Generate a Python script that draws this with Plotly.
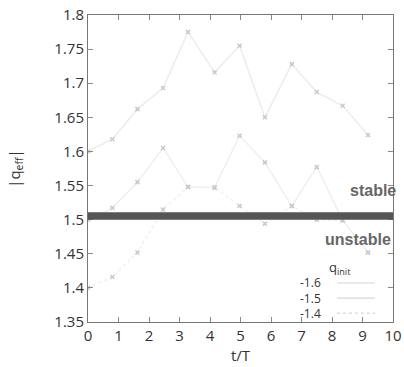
import plotly.graph_objects as go

t = [0, 0.8, 1.62, 2.46, 3.28, 4.15, 4.97, 5.8, 6.68, 7.5, 8.35, 9.18]
q16 = [1.600, 1.618, 1.662, 1.693, 1.775, 1.716, 1.755, 1.650, 1.728, 1.687, 1.667, 1.624]
q15 = [1.500, 1.517, 1.555, 1.605, 1.548, 1.547, 1.623, 1.584, 1.520, 1.577, 1.499, 1.452]
q14 = [1.400, 1.416, 1.452, 1.515, 1.548, 1.547, 1.520, 1.494, 1.520, 1.500, 1.499, 1.452]
series_names = ["-1.6", "-1.5", "-1.4"]
band_low, band_high = 1.500, 1.511
x_ticks = list(range(0, 11))
y_ticks = [1.35, 1.4, 1.45, 1.5, 1.55, 1.6, 1.65, 1.7, 1.75, 1.8]
y_tick_text = ["1.35", "1.4", "1.45", "1.5", "1.55", "1.6", "1.65", "1.7", "1.75", "1.8"]

fig = go.Figure()
styles = [("#ececec", "solid"), ("#efefef", "solid"), ("#f0f0f0", "dot")]
for name, ys, (c, d) in zip(series_names, [q16, q15, q14], styles):
    fig.add_trace(go.Scatter(x=t, y=ys, mode="lines+markers", name=name,
                             line=dict(color=c, width=1.5, dash=d),
                             marker=dict(color="#d0d0d0", size=4, symbol="x-thin",
                                         line=dict(color="#c8c8c8", width=1.5)),
                             showlegend=False))

fig.add_shape(type="rect", xref="paper", yref="y", x0=0, x1=1, y0=band_low, y1=band_high,
              fillcolor="#555555", line=dict(width=0), layer="above")

font = dict(family="Open Sans, DejaVu Sans, sans-serif", size=15, color="#333")
axis_common = dict(showgrid=False, zeroline=False, showline=True, linecolor="#777",
                   linewidth=1, mirror="ticks", ticks="inside", ticklen=5, tickcolor="#888",
                   tickfont=font, ticklabeloverflow="allow", automargin=False)
fig.update_layout(
    width=404, height=367,
    margin=dict(l=88, r=11, t=15, b=45, autoexpand=False),
    paper_bgcolor="white", plot_bgcolor="white",
    xaxis=dict(range=[0, 10], tickvals=x_ticks, title=dict(text="t/T", font=font, standoff=2),
               **axis_common),
    yaxis=dict(range=[1.35, 1.8], tickvals=y_ticks, ticktext=y_tick_text,
               title=dict(text="|q<sub>eff</sub>|", font=font, standoff=30), **axis_common),
)

bold = dict(family="Liberation Sans, Arial, sans-serif", size=16, color="#666")
fig.add_annotation(x=1.018, y=1.543, xref="paper", yref="y", text="<b>stable</b>",
                   showarrow=False, xanchor="right", yanchor="middle", font=bold)
fig.add_annotation(x=1.0, y=1.471, xref="paper", yref="y", text="<b>unstable</b>",
                   showarrow=False, xanchor="right", yanchor="middle", font=bold)

# legend built by hand (text left of line sample)
legfont = dict(family="Open Sans, DejaVu Sans, sans-serif", size=13, color="#333")
fig.add_annotation(x=0.826, y=0.176, xref="paper", yref="paper", text="q<sub>init</sub>",
                   showarrow=False, xanchor="center", yanchor="middle", font=legfont)
leg_y = [0.127, 0.078, 0.029]
fig.add_annotation(x=0.772, y=leg_y[1], xref="paper", yref="paper",
                   text="<br>".join(series_names), align="right",
                   showarrow=False, xanchor="right", yanchor="middle",
                   font=dict(family="Open Sans, DejaVu Sans, sans-serif", size=12, color="#333"))
for name, yy, (c, d) in zip(series_names, leg_y, styles):
    fig.add_shape(type="line", xref="paper", yref="paper", x0=0.816, x1=0.941, y0=yy, y1=yy,
                  line=dict(color="#d6d6d6", width=1.2, dash=d))

fig.write_html("out.html", config={"displayModeBar": False},
               post_script="document.body.style.margin='0';document.body.style.overflow='hidden';")
